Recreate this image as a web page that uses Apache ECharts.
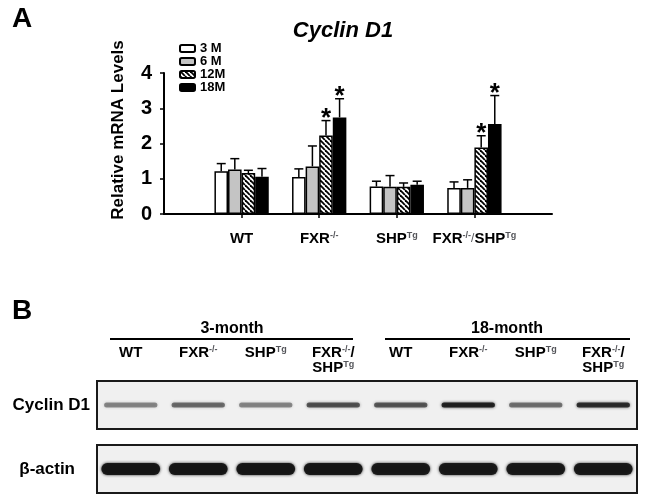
<!DOCTYPE html>
<html>
<head>
<meta charset="utf-8">
<script src="https://cdn.jsdelivr.net/npm/echarts@6/dist/echarts.min.js"></script>
<style>
  html, body { margin: 0; padding: 0; background: #fff; }
  #chart { width: 649px; height: 499px; }
</style>
</head>
<body>
<div id="chart"></div>
<script>
// panel A: relative mRNA levels (mean, SD) per genotype
const genotypes = ['WT', 'FXR-/-', 'SHPTg', 'FXR-/-/SHPTg'];
const ageNames = ['3 M', '6 M', '12M', '18M'];
const m3 = [1.21, 1.05, 0.78, 0.74];
const m6 = [1.26, 1.35, 0.77, 0.74];
const m12 = [1.16, 2.23, 0.77, 1.89];
const m18 = [1.06, 2.74, 0.83, 2.55];
const m3Sd = [0.22, 0.23, 0.15, 0.17];
const m6Sd = [0.31, 0.58, 0.32, 0.23];
const m12Sd = [0.08, 0.42, 0.11, 0.33];
const m18Sd = [0.23, 0.53, 0.10, 0.81];
const m3Sig = [0, 0, 0, 0];
const m6Sig = [0, 0, 0, 0];
const m12Sig = [0, 1, 0, 1];
const m18Sig = [0, 1, 0, 1];
const yTicks = [0, 1, 2, 3, 4];

// panel B: western blot lanes and band densities
const lanes = ['WT', 'FXR-/-', 'SHPTg', 'FXR-/-/SHPTg', 'WT', 'FXR-/-', 'SHPTg', 'FXR-/-/SHPTg'];
const ageGroups = ['3-month', '18-month'];
const cyclinBands = [0.42, 0.52, 0.42, 0.62, 0.6, 0.88, 0.5, 0.8];
const actinBands = [0.95, 0.95, 0.95, 0.95, 0.93, 0.93, 0.93, 0.93];

const FONT = 'Liberation Sans';

function hatch() {
  const s = 5;
  const c = document.createElement('canvas');
  c.width = s; c.height = s;
  const ctx = c.getContext('2d');
  ctx.fillStyle = '#fff';
  ctx.fillRect(0, 0, s, s);
  ctx.strokeStyle = '#000';
  ctx.lineWidth = 1.8;
  for (const o of [-s, 0, s]) {
    ctx.beginPath();
    ctx.moveTo(o, 0);
    ctx.lineTo(o + s, s);
    ctx.stroke();
  }
  return { image: c, repeat: 'repeat' };
}

// superscripts for genotype names
function richName(name, wrap) {
  let t = name.replace(/-\/-/g, '{sup|-/-}').replace(/Tg/g, '{sup|Tg}');
  t = t.replace(/([A-Z]+)(?=\{|$)/g, '{b|$1}');
  if (wrap) t = t.replace('}/{b|SHP', '}{b|/}\n{b|SHP');
  return t;
}

const fills = ['#ffffff', '#c4c4c4', hatch(), '#000000'];
const means = [m3, m6, m12, m18];
const sds = [m3Sd, m6Sd, m12Sd, m18Sd];
const sigs = [m3Sig, m6Sig, m12Sig, m18Sig];
// empty slot before the first and after the last genotype
const xCats = [''].concat(genotypes, ['']);

const series = [];
ageNames.forEach((name, k) => {
  series.push({
    name,
    type: 'bar',
    barGap: '0%',
    barCategoryGap: '30%',
    itemStyle: { color: fills[k], borderColor: '#000', borderWidth: 1.5 },
    data: means[k].map((v, i) => [i + 1, v])
  });
});
ageNames.forEach((name, k) => {
  series.push({
    type: 'custom',
    z: 3,
    renderItem(params, api) {
      const x = api.value(0);
      const base = api.coord([x, api.value(1)]);
      const top = api.coord([x, api.value(2)]);
      const bw = api.size([1, 0])[0] * 0.7 / 4;
      const cx = base[0] + (k - 1.5) * bw;
      const children = [
        { type: 'line', shape: { x1: cx, y1: base[1], x2: cx, y2: top[1] }, style: { stroke: '#000', lineWidth: 1.5 } },
        { type: 'line', shape: { x1: cx - 4.5, y1: top[1], x2: cx + 4.5, y2: top[1] }, style: { stroke: '#000', lineWidth: 1.5 } }
      ];
      if (api.value(3)) {
        children.push({
          type: 'text',
          style: { x: cx, y: top[1] + 11, text: '*', fill: '#000', font: 'bold 26px ' + FONT, textAlign: 'center', textVerticalAlign: 'bottom' }
        });
      }
      return { type: 'group', children };
    },
    data: means[k].map((v, i) => [i + 1, v, v + sds[k][i], sigs[k][i]])
  });
});

function bandSeries(data, axis, widthFrac, h) {
  return {
    type: 'custom',
    xAxisIndex: axis,
    yAxisIndex: axis,
    renderItem(params, api) {
      const c = api.coord([api.value(0), 0]);
      const w = api.size([1, 0])[0] * widthFrac;
      const col = 'rgba(20,20,20,' + api.value(1) + ')';
      return {
        type: 'rect',
        shape: { x: c[0] - w / 2, y: c[1] - h / 2, width: w, height: h, r: h / 2 },
        style: { fill: col, shadowBlur: 3, shadowColor: col }
      };
    },
    data: data.map((v, i) => [i, v])
  };
}
series.push(bandSeries(cyclinBands, 1, 0.79, 5));
series.push(bandSeries(actinBands, 2, 0.87, 12));

const supStyle = { fontSize: 9, fontWeight: 'bold', fontFamily: FONT, verticalAlign: 'top', lineHeight: 15 };

const chart = echarts.init(document.getElementById('chart'), null, { renderer: 'canvas' });
chart.setOption({
  animation: false,
  title: {
    text: 'Cyclin D1',
    left: 338,
    top: 15,
    textAlign: 'center',
    textStyle: { fontFamily: FONT, fontSize: 22, fontWeight: 'bold', fontStyle: 'italic', color: '#000' }
  },
  legend: {
    data: ageNames,
    orient: 'vertical',
    left: 179,
    top: 42,
    padding: 0,
    itemGap: 0,
    itemWidth: 15,
    itemHeight: 7,
    textStyle: { fontFamily: FONT, fontSize: 13, fontWeight: 'bold', color: '#000', lineHeight: 10 }
  },
  grid: [
    { left: 164, top: 73, width: 388, height: 141 },
    { left: 97, top: 381, width: 540, height: 48, show: true, borderColor: '#1a1a1a', borderWidth: 2, backgroundColor: '#f0f0f0' },
    { left: 97, top: 445, width: 540, height: 48, show: true, borderColor: '#1a1a1a', borderWidth: 2, backgroundColor: '#f0f0f0' }
  ],
  xAxis: [
    {
      type: 'category',
      gridIndex: 0,
      data: xCats,
      boundaryGap: false,
      axisLine: { lineStyle: { color: '#000', width: 2 } },
      axisTick: { length: 4, lineStyle: { color: '#000', width: 1.5 }, interval: (i) => i > 0 && i < xCats.length - 1 },
      axisLabel: {
        margin: 17,
        interval: 0,
        formatter: (v) => (v ? richName(v, false) : ''),
        rich: {
          b: { fontSize: 15, fontWeight: 'bold', fontFamily: FONT, color: '#000', lineHeight: 15 },
          sup: supStyle
        }
      }
    },
    {
      type: 'category',
      gridIndex: 1,
      position: 'top',
      data: lanes,
      axisLine: { show: false },
      axisTick: { show: false },
      axisLabel: {
        margin: 6,
        interval: 0,
        formatter: (v) => (v.indexOf('/SHP') > 0 ? richName(v, true) : richName(v, false) + '\n{b| }'),
        rich: {
          b: { fontSize: 15, fontWeight: 'bold', fontFamily: FONT, color: '#000', lineHeight: 15 },
          sup: supStyle
        }
      }
    },
    { type: 'category', gridIndex: 2, data: lanes, show: false }
  ],
  yAxis: [
    {
      type: 'value',
      gridIndex: 0,
      min: yTicks[0],
      max: yTicks[yTicks.length - 1],
      interval: 1,
      splitLine: { show: false },
      axisLine: { show: true, lineStyle: { color: '#000', width: 2 } },
      axisTick: { show: true, length: 4, lineStyle: { color: '#000', width: 1.5 } },
      axisLabel: { margin: 12, fontFamily: FONT, fontSize: 20, fontWeight: 'bold', color: '#000' }
    },
    {
      type: 'category',
      gridIndex: 1,
      data: ['Cyclin D1'],
      axisLine: { show: false },
      axisTick: { show: false },
      axisLabel: { margin: 7, fontFamily: FONT, fontSize: 17, fontWeight: 'bold', color: '#000' }
    },
    {
      type: 'category',
      gridIndex: 2,
      data: ['β-actin'],
      axisLine: { show: false },
      axisTick: { show: false },
      axisLabel: { margin: 22, fontFamily: FONT, fontSize: 17, fontWeight: 'bold', color: '#000' }
    }
  ],
  graphic: [
    { type: 'text', x: 12, y: 5, style: { text: 'A', font: 'bold 28px ' + FONT, fill: '#000' } },
    { type: 'text', x: 12, y: 297, style: { text: 'B', font: 'bold 28px ' + FONT, fill: '#000' } },
    {
      type: 'text', x: 118, y: 130, rotation: Math.PI / 2,
      style: { text: 'Relative mRNA Levels', font: 'bold 17px ' + FONT, fill: '#000', textAlign: 'center', textVerticalAlign: 'middle' }
    },
    { type: 'text', x: 232, y: 329, style: { text: ageGroups[0], font: 'bold 16px ' + FONT, fill: '#000', textAlign: 'center', textVerticalAlign: 'middle' } },
    { type: 'text', x: 507, y: 329, style: { text: ageGroups[1], font: 'bold 16px ' + FONT, fill: '#000', textAlign: 'center', textVerticalAlign: 'middle' } },
    { type: 'line', shape: { x1: 110, y1: 339, x2: 353, y2: 339 }, style: { stroke: '#000', lineWidth: 2 } },
    { type: 'line', shape: { x1: 385, y1: 339, x2: 630, y2: 339 }, style: { stroke: '#000', lineWidth: 2 } }
  ],
  series
});
</script>
</body>
</html>
